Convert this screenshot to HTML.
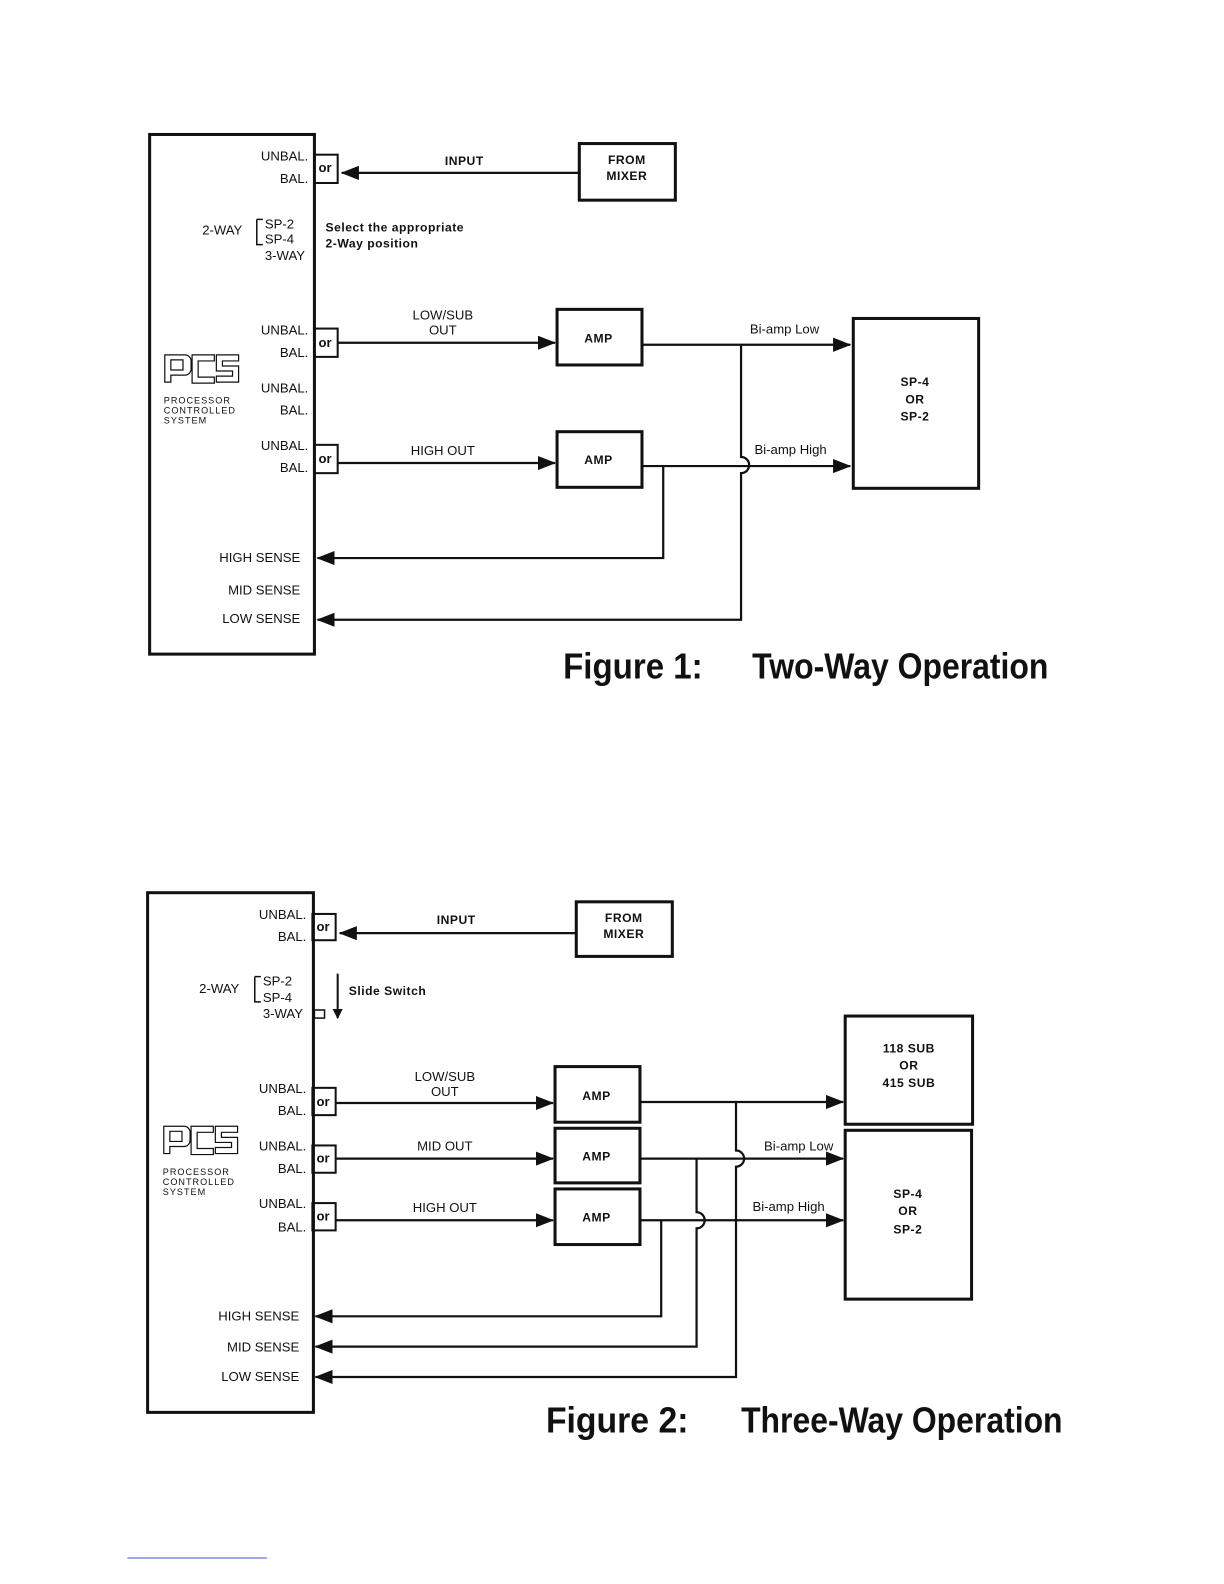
<!DOCTYPE html>
<html><head><meta charset="utf-8"><style>
html,body{margin:0;padding:0;background:#fff;}
svg{display:block;}
text{font-family:"Liberation Sans",sans-serif;fill:#111;}
.l{font-size:13px;}
.b{font-size:12px;font-weight:bold;letter-spacing:0.5px;}
.s{font-size:9px;letter-spacing:1px;}
.t{font-size:36px;font-weight:bold;}
</style></head><body>
<svg width="1224" height="1584" viewBox="0 0 1224 1584" xmlns="http://www.w3.org/2000/svg">
<defs>
<marker id="a" markerWidth="10" markerHeight="10" refX="9" refY="5" orient="auto" markerUnits="userSpaceOnUse"><path d="M0,0 L10,5 L0,10 Z" fill="#111"/></marker>
<marker id="ab" markerWidth="18" markerHeight="14" refX="17" refY="7" orient="auto" markerUnits="userSpaceOnUse"><path d="M0,0 L18,7 L0,14 Z" fill="#111"/></marker>
</defs>
<g transform="scale(1.011)" stroke="#111" fill="none">
<!-- ============ FIGURE 1 ============ -->
<rect x="148" y="133" width="163" height="514" stroke-width="3"/>
<rect x="311" y="153" width="23" height="28" stroke-width="2"/>
<rect x="311" y="325" width="23" height="28" stroke-width="2"/>
<rect x="311" y="440" width="23" height="28" stroke-width="2"/>
<rect x="573" y="142" width="95" height="56" stroke-width="3"/>
<line x1="573" y1="171" x2="338" y2="171" stroke-width="2.2" marker-end="url(#ab)"/>
<path d="M254,217 h6 M254,217 v25 h6" stroke-width="1.5"/>
<rect x="551" y="306" width="84" height="55" stroke-width="3"/>
<rect x="551" y="427" width="84" height="55" stroke-width="3"/>
<line x1="334" y1="339" x2="549" y2="339" stroke-width="2.2" marker-end="url(#ab)"/>
<line x1="334" y1="458" x2="549" y2="458" stroke-width="2.2" marker-end="url(#ab)"/>
<line x1="635" y1="341" x2="841" y2="341" stroke-width="2.2" marker-end="url(#ab)"/>
<line x1="635" y1="461" x2="841" y2="461" stroke-width="2.2" marker-end="url(#ab)"/>
<rect x="844" y="315" width="124" height="168" stroke-width="3"/>
<path d="M733,341 V452 A8,8 0 0 1 733,468 V613 H314" stroke-width="2.2" marker-end="url(#ab)"/>
<path d="M656,461 V552 H314" stroke-width="2.2" marker-end="url(#ab)"/>
<g stroke-width="1.2">
<path d="M163,351 h20 a6,6 0 0 1 6,6 v8 a6,6 0 0 1 -6,6 h-14 v7 h-6 Z M169,356 v10 h12 v-10 Z"/>
<path d="M190,351 h22 v6 h-16 v16 h16 v6 h-22 Z"/>
<path d="M214,351 h22 v6 h-16 v5 h16 v16 h-22 v-6 h16 v-5 h-16 Z"/>
</g>
<!-- ============ FIGURE 2 ============ -->
<rect x="146" y="883" width="164" height="514" stroke-width="3"/>
<rect x="309" y="904" width="23" height="26" stroke-width="2"/>
<rect x="309" y="1076" width="23" height="27" stroke-width="2"/>
<rect x="309" y="1133" width="23" height="27" stroke-width="2"/>
<rect x="309" y="1190" width="23" height="27" stroke-width="2"/>
<rect x="570" y="892" width="95" height="54" stroke-width="3"/>
<line x1="570" y1="923" x2="336" y2="923" stroke-width="2.2" marker-end="url(#ab)"/>
<path d="M252,966 h6 M252,966 v25 h6" stroke-width="1.5"/>
<rect x="311" y="999" width="10" height="8" stroke-width="1.5"/>
<line x1="334" y1="963" x2="334" y2="1007" stroke-width="2" marker-end="url(#a)"/>
<rect x="549" y="1055" width="84" height="55" stroke-width="3"/>
<rect x="549" y="1116" width="84" height="54" stroke-width="3"/>
<rect x="549" y="1176" width="84" height="55" stroke-width="3"/>
<line x1="332" y1="1091" x2="547" y2="1091" stroke-width="2.2" marker-end="url(#ab)"/>
<line x1="332" y1="1146" x2="547" y2="1146" stroke-width="2.2" marker-end="url(#ab)"/>
<line x1="332" y1="1207" x2="547" y2="1207" stroke-width="2.2" marker-end="url(#ab)"/>
<line x1="633" y1="1090" x2="834" y2="1090" stroke-width="2.2" marker-end="url(#ab)"/>
<line x1="633" y1="1146" x2="834" y2="1146" stroke-width="2.2" marker-end="url(#ab)"/>
<line x1="633" y1="1207" x2="834" y2="1207" stroke-width="2.2" marker-end="url(#ab)"/>
<rect x="836" y="1005" width="126" height="107" stroke-width="3"/>
<rect x="836" y="1118" width="125" height="167" stroke-width="3"/>
<path d="M728,1090 V1138 A8,8 0 0 1 728,1154 V1362 H312" stroke-width="2.2" marker-end="url(#ab)"/>
<path d="M689,1146 V1199 A8,8 0 0 1 689,1215 V1332 H312" stroke-width="2.2" marker-end="url(#ab)"/>
<path d="M654,1207 V1302 H312" stroke-width="2.2" marker-end="url(#ab)"/>
<g stroke-width="1.2">
<path d="M162,1114 h20 a6,6 0 0 1 6,6 v8 a6,6 0 0 1 -6,6 h-14 v7 h-6 Z M168,1119 v10 h12 v-10 Z"/>
<path d="M189,1114 h22 v6 h-16 v16 h16 v6 h-22 Z"/>
<path d="M213,1114 h22 v6 h-16 v5 h16 v16 h-22 v-6 h16 v-5 h-16 Z"/>
</g>
<line x1="126" y1="1541" x2="264" y2="1541" stroke="#3355cc" stroke-width="1"/>
</g>

<g transform="scale(1.011)">
<g class="l" text-anchor="end">
<text x="305" y="159">UNBAL.</text><text x="305" y="181">BAL.</text>
<text x="305" y="331">UNBAL.</text><text x="305" y="353">BAL.</text>
<text x="305" y="388">UNBAL.</text><text x="305" y="410">BAL.</text>
<text x="305" y="445">UNBAL.</text><text x="305" y="467">BAL.</text>
<text x="297" y="556">HIGH SENSE</text><text x="297" y="588">MID SENSE</text><text x="297" y="616">LOW SENSE</text>
</g>
<text class="l" x="315" y="170" font-weight="bold">or</text>
<text class="l" x="315" y="343" font-weight="bold">or</text>
<text class="l" x="315" y="458" font-weight="bold">or</text>
<text class="l" x="200" y="232">2-WAY</text>
<text class="l" x="262" y="226">SP-2</text>
<text class="l" x="262" y="241">SP-4</text>
<text class="l" x="262" y="257">3-WAY</text>
<text class="b" x="322" y="229">Select  the  appropriate</text>
<text class="b" x="322" y="245">2-Way  position</text>
<text class="b" x="440" y="163">INPUT</text>
<text class="b" x="620" y="162" text-anchor="middle">FROM</text>
<text class="b" x="620" y="178" text-anchor="middle">MIXER</text>
<text class="l" x="438" y="316" text-anchor="middle">LOW/SUB</text>
<text class="l" x="438" y="331" text-anchor="middle">OUT</text>
<text class="l" x="438" y="450" text-anchor="middle">HIGH OUT</text>
<text class="b" x="592" y="339" text-anchor="middle">AMP</text>
<text class="b" x="592" y="459" text-anchor="middle">AMP</text>
<text class="l" x="776" y="330" text-anchor="middle" font-size="12">Bi-amp Low</text>
<text class="l" x="782" y="449" text-anchor="middle" font-size="12">Bi-amp High</text>
<text class="b" x="905" y="382" text-anchor="middle">SP-4</text>
<text class="b" x="905" y="399" text-anchor="middle">OR</text>
<text class="b" x="905" y="416" text-anchor="middle">SP-2</text>
<text class="s" x="162" y="399">PROCESSOR</text>
<text class="s" x="162" y="409">CONTROLLED</text>
<text class="s" x="162" y="419">SYSTEM</text>
<text class="t" x="557" y="671" textLength="138" lengthAdjust="spacingAndGlyphs">Figure 1:</text>
<text class="t" x="744" y="671" textLength="293" lengthAdjust="spacingAndGlyphs">Two-Way Operation</text>

<g class="l" text-anchor="end">
<text x="303" y="909">UNBAL.</text><text x="303" y="931">BAL.</text>
<text x="303" y="1081">UNBAL.</text><text x="303" y="1103">BAL.</text>
<text x="303" y="1138">UNBAL.</text><text x="303" y="1160">BAL.</text>
<text x="303" y="1195">UNBAL.</text><text x="303" y="1218">BAL.</text>
<text x="296" y="1306">HIGH SENSE</text><text x="296" y="1337">MID SENSE</text><text x="296" y="1366">LOW SENSE</text>
</g>
<text class="l" x="313" y="921" font-weight="bold">or</text>
<text class="l" x="313" y="1094" font-weight="bold">or</text>
<text class="l" x="313" y="1150" font-weight="bold">or</text>
<text class="l" x="313" y="1207" font-weight="bold">or</text>
<text class="l" x="197" y="982">2-WAY</text>
<text class="l" x="260" y="975">SP-2</text>
<text class="l" x="260" y="991">SP-4</text>
<text class="l" x="260" y="1007">3-WAY</text>
<text class="b" x="345" y="984">Slide  Switch</text>
<text class="b" x="432" y="914">INPUT</text>
<text class="b" x="617" y="912" text-anchor="middle">FROM</text>
<text class="b" x="617" y="928" text-anchor="middle">MIXER</text>
<text class="l" x="440" y="1069" text-anchor="middle">LOW/SUB</text>
<text class="l" x="440" y="1084" text-anchor="middle">OUT</text>
<text class="l" x="440" y="1138" text-anchor="middle">MID OUT</text>
<text class="l" x="440" y="1199" text-anchor="middle">HIGH OUT</text>
<text class="b" x="590" y="1088" text-anchor="middle">AMP</text>
<text class="b" x="590" y="1148" text-anchor="middle">AMP</text>
<text class="b" x="590" y="1208" text-anchor="middle">AMP</text>
<text class="l" x="790" y="1138" text-anchor="middle" font-size="12">Bi-amp Low</text>
<text class="l" x="780" y="1198" text-anchor="middle" font-size="12">Bi-amp High</text>
<text class="b" x="899" y="1041" text-anchor="middle">118 SUB</text>
<text class="b" x="899" y="1058" text-anchor="middle">OR</text>
<text class="b" x="899" y="1075" text-anchor="middle">415 SUB</text>
<text class="b" x="898" y="1185" text-anchor="middle">SP-4</text>
<text class="b" x="898" y="1202" text-anchor="middle">OR</text>
<text class="b" x="898" y="1220" text-anchor="middle">SP-2</text>
<text class="s" x="161" y="1162">PROCESSOR</text>
<text class="s" x="161" y="1172">CONTROLLED</text>
<text class="s" x="161" y="1182">SYSTEM</text>
<text class="t" x="540" y="1417" textLength="141" lengthAdjust="spacingAndGlyphs">Figure 2:</text>
<text class="t" x="733" y="1417" textLength="318" lengthAdjust="spacingAndGlyphs">Three-Way Operation</text>
</g>
</svg>
</body></html>
